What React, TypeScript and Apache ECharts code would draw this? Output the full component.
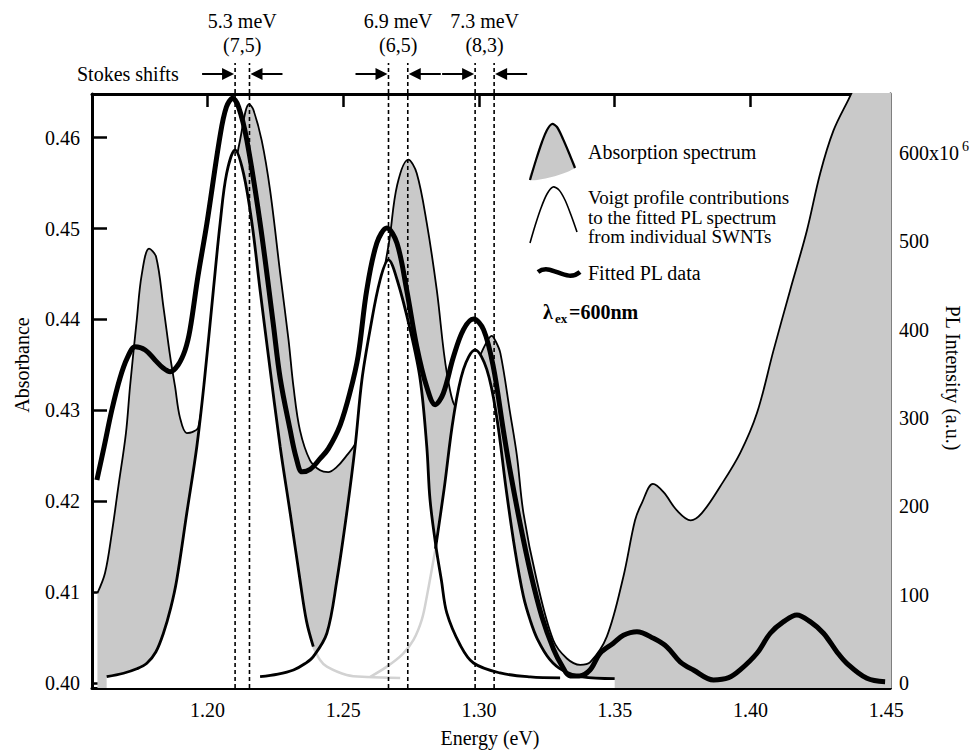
import React, { useEffect, useRef } from "react";
import * as echarts from "echarts";

const FONT = "Liberation Serif";

// axes
const E_MIN = 1.1575;
const E_MAX = 1.4514;
const ABS_MIN = 0.39945;
const ABS_MAX = 0.46481;
const PL_MIN = -5.7;
const PL_MAX = 666.8;
const energyTicks = [1.2, 1.25, 1.3, 1.35, 1.4, 1.45];
const absorbanceTicks = [0.4, 0.41, 0.42, 0.43, 0.44, 0.45, 0.46];
const plTicks = [0, 100, 200, 300, 400, 500, 600];

// absorption spectrum [energy eV, absorbance]
const absorption: [number, number][] = [
  [1.1595, 0.4099], [1.1623, 0.4121], [1.1648, 0.4165], [1.1672, 0.4216], [1.17, 0.4275],
  [1.1715, 0.4326], [1.174, 0.44], [1.1758, 0.4449], [1.1785, 0.4478], [1.1811, 0.4469],
  [1.1838, 0.4414], [1.1863, 0.4359], [1.1881, 0.4326], [1.1899, 0.4292], [1.1924, 0.4275],
  [1.1944, 0.4276], [1.1966, 0.4281], [1.1992, 0.4333], [1.2017, 0.4388], [1.2054, 0.4476],
  [1.2091, 0.4548], [1.212, 0.4597], [1.2154, 0.4637], [1.2169, 0.4631], [1.22, 0.4597],
  [1.2231, 0.4542], [1.2268, 0.4451], [1.2299, 0.4377], [1.2317, 0.4326], [1.2341, 0.4278],
  [1.2378, 0.4245], [1.2415, 0.4234], [1.2445, 0.4232], [1.2474, 0.4237], [1.2507, 0.4248],
  [1.255, 0.4267], [1.2571, 0.4311], [1.2607, 0.4377], [1.2644, 0.4443], [1.267, 0.4487],
  [1.2699, 0.4548], [1.274, 0.4576], [1.2771, 0.4561], [1.2808, 0.4506], [1.2845, 0.4432],
  [1.2882, 0.4341], [1.2919, 0.4303], [1.2953, 0.4322], [1.299, 0.435], [1.3023, 0.4372],
  [1.3047, 0.4382], [1.306, 0.4377], [1.3079, 0.4363], [1.3115, 0.4297], [1.314, 0.425],
  [1.3164, 0.4187], [1.3213, 0.4113], [1.3274, 0.4047], [1.3324, 0.4027], [1.3373, 0.402],
  [1.341, 0.4023], [1.3471, 0.4051], [1.3532, 0.4117], [1.3575, 0.4179], [1.36, 0.4198],
  [1.3641, 0.4219], [1.368, 0.421], [1.3729, 0.419], [1.378, 0.4179], [1.3821, 0.4187],
  [1.3888, 0.4216], [1.3962, 0.4253], [1.4024, 0.4297], [1.4085, 0.4366], [1.4146, 0.4432],
  [1.4208, 0.4498], [1.4257, 0.4561], [1.4306, 0.4608], [1.4361, 0.4642], [1.44, 0.4665],
  [1.452, 0.472],
];

// Voigt profile contributions [energy eV, PL intensity]
const voigt75: [number, number][] = [
  [1.1629, 7.1], [1.1691, 11], [1.174, 16], [1.1777, 22.3], [1.181, 35], [1.1838, 56.3],
  [1.1865, 85], [1.1887, 116.6], [1.1924, 192.1], [1.1961, 267.5], [1.1988, 339.6],
  [1.2022, 444.9], [1.2047, 520.8], [1.2071, 577], [1.2102, 603.4], [1.2133, 577],
  [1.2164, 520.8], [1.2194, 444.9], [1.2225, 369.4], [1.2268, 267.5], [1.2305, 192.1],
  [1.2341, 116.6], [1.2365, 70], [1.239, 41.1], [1.2415, 26], [1.244, 18.5], [1.2513, 9.1],
  [1.2587, 6.8], [1.271, 5.7],
];
const voigt65: [number, number][] = [
  [1.2194, 7.1], [1.226, 10], [1.2317, 14.7], [1.236, 22], [1.239, 29.8], [1.244, 56.3],
  [1.2477, 116.6], [1.2513, 192.1], [1.2544, 267.5], [1.2569, 343], [1.2599, 399.6],
  [1.2636, 456.2], [1.2667, 478.9], [1.2699, 456.2], [1.2747, 399.6], [1.2784, 343],
  [1.2808, 267.5], [1.282, 207.2], [1.2842, 154], [1.2862, 116], [1.2882, 79], [1.2931, 43],
  [1.298, 22.6], [1.3078, 11.3], [1.3189, 6.8], [1.3299, 5.7],
];
const voigt83: [number, number][] = [
  [1.26, 7], [1.2661, 18.5], [1.272, 33], [1.2759, 48.7], [1.279, 72], [1.2808, 97.7],
  [1.284, 152], [1.2872, 220], [1.2906, 300], [1.2943, 355], [1.2986, 377], [1.3029, 355],
  [1.3066, 300], [1.31, 220], [1.3132, 152], [1.3164, 98], [1.319, 70], [1.3215, 50],
  [1.326, 27], [1.331, 14], [1.338, 7], [1.35, 5],
];

// fitted PL data [energy eV, PL intensity]
const fittedPL: [number, number][] = [
  [1.1593, 229.8], [1.162, 268], [1.1648, 309], [1.1678, 345], [1.1705, 368], [1.1734, 380.7],
  [1.1771, 377], [1.1807, 365.7], [1.1837, 356.6], [1.1863, 352.4], [1.1892, 360], [1.1918, 377],
  [1.1936, 400], [1.1965, 460], [1.1998, 520], [1.2047, 620], [1.207, 652], [1.2093, 662],
  [1.2115, 652], [1.2145, 615], [1.2194, 521], [1.2242, 408], [1.2268, 345], [1.2305, 286],
  [1.2327, 255], [1.2349, 239], [1.2379, 242], [1.2415, 254], [1.2445, 265], [1.2489, 292],
  [1.2526, 330], [1.2555, 370], [1.2587, 445], [1.2624, 498], [1.2661, 515], [1.2698, 498],
  [1.2734, 445], [1.2771, 381], [1.2808, 335], [1.2839, 315], [1.2869, 328], [1.2906, 369],
  [1.2943, 400], [1.298, 412], [1.3017, 400], [1.3053, 358], [1.309, 286], [1.3115, 240],
  [1.3152, 180], [1.319, 125], [1.3232, 75], [1.3275, 38], [1.3305, 20], [1.3336, 8],
  [1.337, 8], [1.3409, 14.7], [1.3446, 33.6], [1.3495, 45], [1.3532, 54], [1.3582, 58],
  [1.3643, 50.6], [1.3692, 41], [1.3741, 24], [1.379, 14.7], [1.3864, 3.4], [1.392, 6],
  [1.3962, 14.7], [1.4024, 33.6], [1.4073, 56.3], [1.4122, 69.4], [1.4171, 77], [1.422, 69.4],
  [1.4269, 56.3], [1.4318, 35.4], [1.4355, 22.3], [1.4429, 5.3], [1.4496, 1.5],
];

// energies where a profile passes behind another one (drawn light grey beyond)
const voigt75HiddenFrom = 1.239;
const voigt83HiddenUntil = 1.284;

// Stokes shift annotations: PL peak energy, absorption peak energy
const stokesPL = [1.2102, 1.2667, 1.2986];
const stokesAbs = [1.2155, 1.2738, 1.3056];
const stokesShift = ["5.3 meV", "6.9 meV", "7.3 meV"];
const stokesTube = ["(7,5)", "(6,5)", "(8,3)"];

const GREY = "#c9c9c9";
const GHOST = "#d2d2d2";

function axisBase(extra: any) {
  return {
    type: "value",
    axisLine: { show: true, onZero: false, lineStyle: { color: "#000", width: 3 } },
    splitLine: { show: false },
    ...extra,
  };
}

export default function App() {
  const ref = useRef<HTMLDivElement>(null);

  useEffect(() => {
    if (!ref.current) return;
    const chart = echarts.init(ref.current, undefined, { renderer: "svg" });
    const font = { fontFamily: FONT, fontSize: 20, color: "#000" };
    const txt = (text: string, x: number, y: number, extra: any = {}) => ({
      type: "text",
      x,
      y,
      rotation: extra.rotation || 0,
      style: {
        text,
        x: 0,
        y: 0,
        fontFamily: FONT,
        fontSize: 20,
        fontWeight: "normal",
        fill: "#000",
        textAlign: "left",
        align: "left",
        textVerticalAlign: "middle",
        verticalAlign: "middle",
        ...(extra.style || {}),
      },
    });

    const lineSeries = (name: string, data: [number, number][], yAxisIndex: number, color: string, width: number, z: number, area?: string) => ({
      name,
      type: "line",
      data,
      xAxisIndex: 0,
      yAxisIndex,
      smooth: 0.35,
      symbol: "none",
      z,
      silent: true,
      lineStyle: { color, width },
      areaStyle: area ? { color: area, opacity: 1, origin: "start" } : undefined,
    });

    const option: any = {
      animation: false,
      backgroundColor: "#fff",
      textStyle: { fontFamily: FONT },
      grid: { left: 92, right: 82, top: 94, bottom: 63, containLabel: false },
      xAxis: [
        axisBase({
          min: E_MIN,
          max: E_MAX,
          position: "bottom",
          axisTick: { show: true, inside: true, length: 13, lineStyle: { color: "#000", width: 2.5 }, customValues: energyTicks },
          axisLabel: { ...font, margin: 12, customValues: energyTicks, formatter: (v: number) => v.toFixed(2) },
        }),
        axisBase({
          min: E_MIN,
          max: E_MAX,
          position: "top",
          axisTick: { show: true, inside: true, length: 13, lineStyle: { color: "#000", width: 2.5 }, customValues: energyTicks },
          axisLabel: { show: false },
        }),
      ],
      yAxis: [
        axisBase({
          min: ABS_MIN,
          max: ABS_MAX,
          position: "left",
          axisTick: { show: true, inside: true, length: 15, lineStyle: { color: "#000", width: 2.5 }, customValues: absorbanceTicks },
          axisLabel: { ...font, margin: 12, customValues: absorbanceTicks, formatter: (v: number) => v.toFixed(2) },
        }),
        axisBase({
          min: PL_MIN,
          max: PL_MAX,
          position: "right",
          axisTick: { show: true, inside: true, length: 13, lineStyle: { color: "#000", width: 2.5 }, customValues: plTicks },
          axisLabel: {
            ...font,
            margin: 9,
            customValues: plTicks,
            formatter: (v: number) => (v === 600 ? "600x10{sup|6}" : String(v)),
            rich: { sup: { fontFamily: FONT, fontSize: 14, color: "#000", padding: [0, 0, 14, 3] } },
          },
        }),
      ],
      series: [
        lineSeries("Absorption spectrum", absorption, 0, "#000", 1.8, 1, GREY),
        lineSeries("Voigt (7,5) fill", voigt75, 1, "#fff", 0, 2, "#fff"),
        lineSeries("Voigt (6,5) fill", voigt65, 1, "#fff", 0, 2, "#fff"),
        lineSeries("Voigt (8,3) fill", voigt83, 1, "#fff", 0, 2, "#fff"),
        lineSeries("Voigt (7,5) hidden", voigt75.filter((p) => p[0] >= voigt75HiddenFrom), 1, GHOST, 2.5, 3),
        lineSeries("Voigt (8,3) hidden", voigt83.filter((p) => p[0] <= voigt83HiddenUntil), 1, GHOST, 2.5, 3),
        lineSeries("Voigt (7,5)", voigt75.filter((p) => p[0] <= voigt75HiddenFrom), 1, "#000", 2.8, 4),
        lineSeries("Voigt (6,5)", voigt65, 1, "#000", 2.8, 4),
        lineSeries("Voigt (8,3)", voigt83.filter((p) => p[0] >= voigt83HiddenUntil), 1, "#000", 2.8, 4),
        lineSeries("Fitted PL data", fittedPL, 1, "#000", 5, 5),
        {
          type: "custom",
          name: "Stokes shifts",
          xAxisIndex: 0,
          yAxisIndex: 0,
          clip: false,
          silent: true,
          z: 10,
          data: stokesPL.map((e, i) => [e, stokesAbs[i]]),
          renderItem: (params: any, api: any) => {
            const i = params.dataIndex;
            const [xPL, bottom] = api.coord([stokesPL[i], ABS_MIN]);
            const xAbs = api.coord([stokesAbs[i], ABS_MIN])[0];
            const mid = (xPL + xAbs) / 2;
            const top = 63;
            const ya = 74;
            const len = 33;
            const head = 13;
            const hh = 6;
            const dash = { stroke: "#000", lineWidth: 1.6, lineDash: [4, 3] };
            const solid = { stroke: "#000", lineWidth: 2 };
            const t = (text: string, y: number) => ({
              type: "text",
              style: {
                text,
                x: mid,
                y,
                fontFamily: FONT,
                fontSize: 20,
                fill: "#000",
                textAlign: "center",
                align: "center",
                textVerticalAlign: "middle",
                verticalAlign: "middle",
              },
            });
            return {
              type: "group",
              children: [
                { type: "line", shape: { x1: xPL, y1: bottom, x2: xPL, y2: top }, style: dash },
                { type: "line", shape: { x1: xAbs, y1: bottom, x2: xAbs, y2: top }, style: dash },
                { type: "line", shape: { x1: xPL - len, y1: ya, x2: xPL - head + 1, y2: ya }, style: solid },
                { type: "polygon", shape: { points: [[xPL - head, ya - hh], [xPL - 1, ya], [xPL - head, ya + hh]] }, style: { fill: "#000" } },
                { type: "line", shape: { x1: xAbs + len, y1: ya, x2: xAbs + head - 1, y2: ya }, style: solid },
                { type: "polygon", shape: { points: [[xAbs + head, ya - hh], [xAbs + 1, ya], [xAbs + head, ya + hh]] }, style: { fill: "#000" } },
                t(stokesShift[i], 21),
                t(stokesTube[i], 45),
              ],
            };
          },
        },
      ],
      graphic: [
        txt("Stokes shifts", 77, 74),
        txt("Absorbance", 22, 365, { rotation: Math.PI / 2, style: { textAlign: "center", align: "center" } }),
        txt("PL Intensity (a.u.)", 953, 378, { rotation: -Math.PI / 2, style: { textAlign: "center", align: "center" } }),
        txt("Energy (eV)", 490, 738, { style: { textAlign: "center", align: "center" } }),
        // legend: absorption spectrum
        {
          type: "polygon",
          shape: { points: [[530, 180], [536, 160], [542, 142], [547, 130], [552, 124], [557, 127], [563, 139], [569, 153], [575, 168]], smooth: 0.3 },
          style: { fill: GREY },
        },
        {
          type: "polyline",
          shape: { points: [[530, 180], [536, 160], [542, 142], [547, 130], [552, 124], [557, 127], [563, 139], [569, 153], [575, 168]], smooth: 0.3 },
          style: { stroke: "#000", lineWidth: 2.2, fill: null },
        },
        txt("Absorption spectrum", 588, 152),
        // legend: Voigt profiles
        {
          type: "polyline",
          shape: { points: [[530, 243], [535, 226], [541, 208], [547, 194], [553, 187], [559, 190], [565, 200], [571, 215], [577, 232]], smooth: 0.3 },
          style: { stroke: "#000", lineWidth: 1.6, fill: null },
        },
        txt("Voigt profile contributions", 588, 197.5, { style: { fontSize: 19 } }),
        txt("to the fitted PL spectrum", 588, 217, { style: { fontSize: 19 } }),
        txt("from individual SWNTs", 588, 236.5, { style: { fontSize: 19 } }),
        // legend: fitted PL
        {
          type: "bezierCurve",
          shape: { x1: 538, y1: 272, cpx1: 551, cpy1: 262, cpx2: 566, cpy2: 284, x2: 580, y2: 272 },
          style: { stroke: "#000", lineWidth: 4.5, fill: null },
        },
        txt("Fitted PL data", 588, 273),
        txt("λ", 543, 312, { style: { fontWeight: "bold" } }),
        txt("ex", 555, 318, { style: { fontWeight: "bold", fontSize: 13 } }),
        txt("=600nm", 569, 312, { style: { fontWeight: "bold" } }),
      ],
    };

    chart.setOption(option);
    return () => chart.dispose();
  }, []);

  return (
    <div
      ref={ref}
      style={{ position: "fixed", left: 0, top: 0, width: 972, height: 751, background: "#fff" }}
    />
  );
}
